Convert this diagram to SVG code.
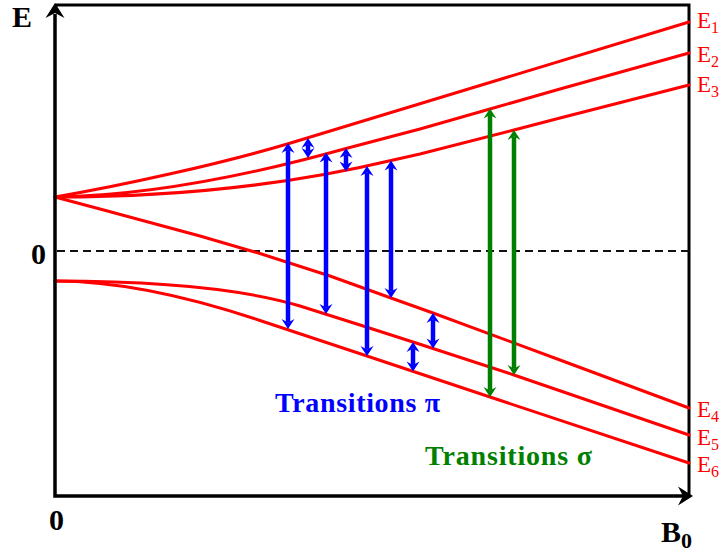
<svg xmlns="http://www.w3.org/2000/svg" width="726" height="553" viewBox="0 0 726 553">
<defs>
<style>
.axis{fill:none;stroke:#000;stroke-width:3.5;stroke-linejoin:miter}
.frame{fill:none;stroke:#000;stroke-width:3}
.lvl{fill:none;stroke:#ff0000;stroke-width:3;stroke-linejoin:round;stroke-linecap:round}
.zero{stroke:#111;stroke-width:2;stroke-dasharray:8 5}
.pi{stroke:#0000ff;stroke-width:4.5;marker-start:url(#hb);marker-end:url(#hb)}
.sg{stroke:#008000;stroke-width:4.5;marker-start:url(#hg);marker-end:url(#hg)}
text{font-family:"Liberation Serif","Times New Roman",serif}
.ax{font-weight:bold;font-size:30px;fill:#000}
.el{font-size:23px;fill:#ff0000}
.sub{font-size:16px}
.lab{font-weight:bold;font-size:28px}
</style>
<marker id="hb" markerUnits="userSpaceOnUse" orient="auto-start-reverse" refX="3.5" refY="0" markerWidth="12" markerHeight="14" overflow="visible"><path d="M10,0 L0,-6.5 L3.5,0 L0,6.5 Z" fill="#0000ff"/></marker>
<marker id="hg" markerUnits="userSpaceOnUse" orient="auto-start-reverse" refX="3.5" refY="0" markerWidth="12" markerHeight="14" overflow="visible"><path d="M10,0 L0,-6.5 L3.5,0 L0,6.5 Z" fill="#008000"/></marker>
</defs>
<rect width="726" height="553" fill="#fff"/>

<g id="frame">
<path class="frame" d="M55,5 L689,5 L689,496"/>
<line class="zero" x1="57" y1="251" x2="689" y2="251"/>
</g>

<g id="levels">
<path id="E1" class="lvl" d="M55,197 C120,186 220,164 289,143.5 L689,22"/>
<path id="E2" class="lvl" d="M55,197 C140,196 240,178 346,148.5 L420,129 L490,109 L560,89 L689,53"/>
<path id="E3" class="lvl" d="M55,197 C160,197 280,187 391,160.5 L420,154 L514,130 L560,118 L689,85"/>
<path id="E4" class="lvl" d="M55,197 L100,209 L150,222.5 L200,236 L260,253.5 L330,276 L391,298 L433,313 L560,360 L689,408"/>
<path id="E5" class="lvl" d="M55,281 C150,281 240,288 300,306 L360,325 L413,342 L514,375 L689,435"/>
<path id="E6" class="lvl" d="M55,281 C120,281 190,297 260,320.5 L367,356 L490,397 L689,463"/>
</g>

<g id="axes">
<path class="axis" d="M55,14 L55,496 L684,496"/>
<path d="M55,3 L64.5,18 L55,13 L45.5,18 Z" fill="#000"/>
<path d="M693,496 L678,486.5 L683,496 L678,505.5 Z" fill="#000"/>
</g>

<g id="connectors">
<line class="pi" x1="288" y1="149.5" x2="288" y2="322.5"/>
<line class="pi" x1="308" y1="144.5" x2="308" y2="151.5"/>
<line class="pi" x1="326" y1="159" x2="326" y2="307.5"/>
<line class="pi" x1="346" y1="154.5" x2="346" y2="165"/>
<line class="pi" x1="367" y1="172.5" x2="367" y2="349.5"/>
<line class="pi" x1="391" y1="167" x2="391" y2="291.5"/>
<line class="pi" x1="433" y1="319.5" x2="433" y2="342"/>
<line class="pi" x1="413" y1="348.5" x2="413" y2="365"/>
<line class="sg" x1="490" y1="115" x2="490" y2="390.5"/>
<line class="sg" x1="514" y1="136.5" x2="514" y2="368.5"/>
</g>

<g id="axis-labels">
<text class="ax" x="12" y="27" font-size="29">E</text>
<text class="ax" x="38.5" y="264" text-anchor="middle">0</text>
<text class="ax" x="56.5" y="530" text-anchor="middle">0</text>
<text class="ax" x="661" y="542" font-size="31">B<tspan font-size="22" dy="6">0</tspan></text>
</g>

<g id="level-labels">
<text class="el" x="697" y="28">E<tspan class="sub" dy="5">1</tspan></text>
<text class="el" x="697" y="62">E<tspan class="sub" dy="5">2</tspan></text>
<text class="el" x="697" y="92">E<tspan class="sub" dy="5">3</tspan></text>
<text class="el" x="697" y="417">E<tspan class="sub" dy="5">4</tspan></text>
<text class="el" x="697" y="445">E<tspan class="sub" dy="5">5</tspan></text>
<text class="el" x="697" y="472">E<tspan class="sub" dy="5">6</tspan></text>
</g>

<g id="legend">
<text class="lab" x="275" y="412" fill="#0000ff" textLength="165" lengthAdjust="spacing">Transitions π</text>
<text class="lab" x="425" y="465" fill="#008000" textLength="167" lengthAdjust="spacing">Transitions σ</text>
</g>
</svg>
